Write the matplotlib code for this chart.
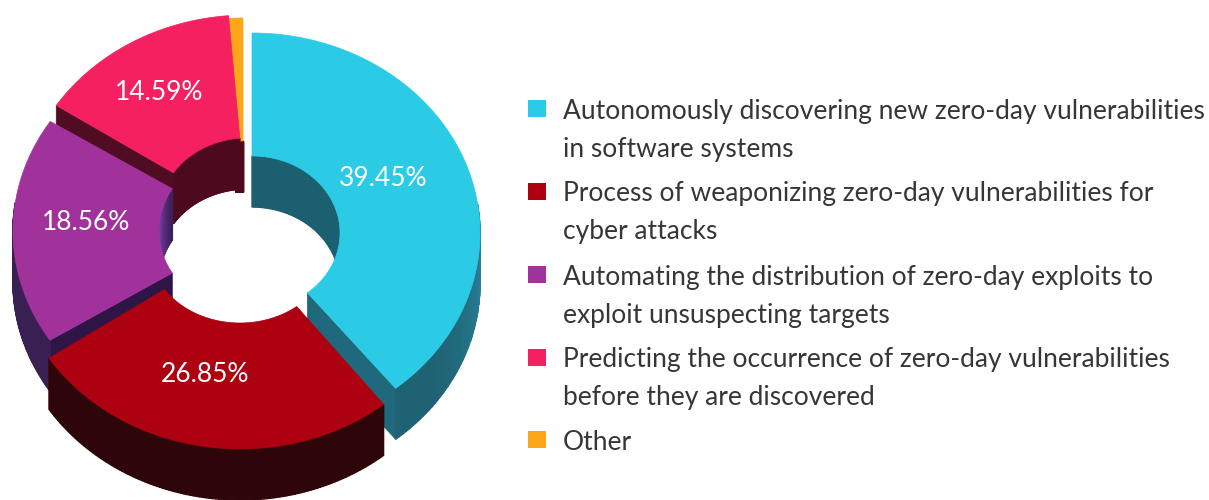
import numpy as np
import matplotlib
matplotlib.use("Agg")
import matplotlib.pyplot as plt
from matplotlib.colors import to_rgb
from matplotlib.patches import Polygon, Rectangle

# Data
categories = [
    "Autonomously discovering new zero-day vulnerabilities\nin software systems",
    "Process of weaponizing zero-day vulnerabilities for\ncyber attacks",
    "Automating the distribution of zero-day exploits to\nexploit unsuspecting targets",
    "Predicting the occurrence of zero-day vulnerabilities\nbefore they are discovered",
    "Other",
]
values = [39.45, 26.85, 18.56, 14.59, 1.3]
value_labels = ["39.45%", "26.85%", "18.56%", "14.59%", ""]

# Styles
colors = ["#2BCBE6", "#AD0010", "#A2329B", "#F4205F", "#FDA619"]
outer_wall = ["#277A90", "#2E0508", "#3A1F52", "#4A0A20", "#4A0A20"]
inner_wall = ["#1B5F70", "#3A0810", "#3A1F52", "#4D0A1E", "#4D0A1E"]
cut_wall = ["#20687C", "#3A0508", "#2E1545", "#500C22", "#500C22"]
centers = [(252, 233), (240, 249), (241, 231), (247, 215), (243, 218)]
inner_rx = [88, 90, 82, 88, 88]
inner_ry = [77, 74, 77, 77, 77]
label_pos = [(383, 179), (205, 375), (86, 223), (159, 93)]
visible_cuts = {0: "end", 2: "start", 3: "start"}
RX, RY, DEPTH = 228, 200, 51
FONT = "Lato"
FS = 19.0

fig = plt.figure(figsize=(12.09, 5.0), dpi=100)
ax = fig.add_axes([0, 0, 1, 1])
ax.set_xlim(0, 1209)
ax.set_ylim(500, 0)
ax.axis("off")


def ring(c, rx, ry, a):
    return np.column_stack([c[0] + rx * np.sin(a), c[1] - ry * np.cos(a)])


def shade(col, f):
    return tuple(min(1, v * f) for v in to_rgb(col))


def poly(pts, col, z, lw=1.0):
    ax.add_patch(Polygon(pts, closed=True, facecolor=col, edgecolor=col,
                         linewidth=lw, zorder=z))


fractions = np.array(values) / sum(values) * 2 * np.pi
ends = np.cumsum(fractions)
starts = ends - fractions
down = np.array([0, DEPTH])

# painter's order: far wedges first
order = [4, 3, 2, 0, 1]
for z, i in enumerate(order):
    c, a0, a1 = centers[i], starts[i], ends[i]
    irx, iry = inner_rx[i], inner_ry[i]
    base = 10 * (z + 1)
    arc = np.linspace(a0, a1, 120)

    # inner wall, visible where the hole's far side faces the viewer
    vis = arc[np.cos(arc) > 0]
    for a, b in zip(vis[:-1], vis[1:]):
        seg = ring(c, irx, iry, np.array([a, b]))
        f = 1.0
        if i == 2:
            f = 1.0 + 1.6 * (1 - np.cos(a) / 0.56)
        poly(np.vstack([seg, (seg + down)[::-1]]), shade(inner_wall[i], f), base)

    # radial cut face
    if i in visible_cuts:
        ang = a1 if visible_cuts[i] == "end" else a0
        inn = ring(c, irx, iry, np.array([ang]))[0]
        out = ring(c, RX, RY, np.array([ang]))[0]
        poly([inn, out, out + down, inn + down], cut_wall[i], base + 1, 0.5)

    # outer wall on the near half
    vis = arc[np.cos(arc) < 0.15]
    for a, b in zip(vis[:-1], vis[1:]):
        seg = ring(c, RX, RY, np.array([a, b]))
        f = 1.0
        if i == 0:
            f = 0.8 + 0.45 * max(0, np.cos(a) + 0.6)
        poly(np.vstack([seg, (seg + down)[::-1]]), shade(outer_wall[i], f), base + 2)

    # top surface
    outer = ring(c, RX, RY, arc)
    inner = ring(c, irx, iry, arc[::-1])
    poly(np.vstack([outer, inner]), colors[i], base + 3, 0.5)

# value labels
for text, (x, y) in zip(value_labels, label_pos):
    ax.text(x, y, text, color="white", fontsize=FS, family=FONT,
            ha="center", va="center", zorder=200)

# legend
line_y = [(110, 148), (193, 231), (276, 314), (359, 397), (441,)]
for name, col, ys in zip(categories, colors, line_y):
    ax.add_patch(Rectangle((528, ys[0] - 10), 18, 17, facecolor=col, edgecolor="none", zorder=200))
    for part, y in zip(name.split("\n"), ys):
        ax.text(563, y + 1, part, color="#363636", fontsize=FS, family=FONT,
                ha="left", va="center", zorder=200)

fig.savefig("out.png", dpi=100, facecolor="white")
